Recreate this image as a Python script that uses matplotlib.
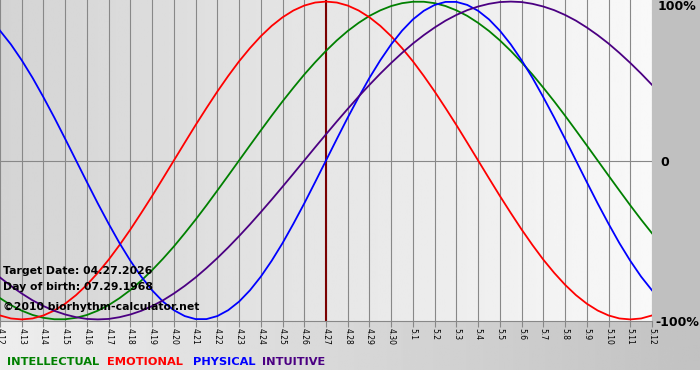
import numpy as np
import matplotlib
matplotlib.use('Agg')
from matplotlib import pyplot as plt
from matplotlib.patches import Rectangle

# day offsets from the target date (4.27), 4.12 .. 5.12
days = list(range(-15, 16))
day_labels = ['4.12', '4.13', '4.14', '4.15', '4.16', '4.17', '4.18', '4.19', '4.20',
              '4.21', '4.22', '4.23', '4.24', '4.25', '4.26', '4.27', '4.28', '4.29',
              '4.30', '5.1', '5.2', '5.3', '5.4', '5.5', '5.6', '5.7', '5.8', '5.9',
              '5.10', '5.11', '5.12']
# curve samples every half day
half_days = np.arange(61) / 2 - 15

# cycle values, -1 .. 1, read every half day
physical = [0.817, 0.731, 0.631, 0.520, 0.398, 0.270, 0.136, 0.0, -0.136, -0.270,
            -0.398, -0.520, -0.631, -0.731, -0.817, -0.888, -0.942, -0.979, -0.998,
            -0.998, -0.979, -0.942, -0.888, -0.817, -0.731, -0.631, -0.520, -0.398,
            -0.270, -0.136, 0.0, 0.136, 0.270, 0.398, 0.520, 0.631, 0.731, 0.817,
            0.888, 0.942, 0.979, 0.998, 0.998, 0.979, 0.942, 0.888, 0.817, 0.731,
            0.631, 0.520, 0.398, 0.270, 0.136, 0.0, -0.136, -0.270, -0.398, -0.520,
            -0.631, -0.731, -0.817]
emotional = [-0.975, -0.994, -1.000, -0.994, -0.975, -0.944, -0.901, -0.847, -0.782,
             -0.707, -0.624, -0.532, -0.434, -0.330, -0.223, -0.112, 0.0, 0.112,
             0.223, 0.330, 0.434, 0.532, 0.624, 0.707, 0.782, 0.847, 0.901, 0.944,
             0.975, 0.994, 1.000, 0.994, 0.975, 0.944, 0.901, 0.847, 0.782, 0.707,
             0.624, 0.532, 0.434, 0.330, 0.223, 0.112, 0.0, -0.112, -0.223, -0.330,
             -0.434, -0.532, -0.624, -0.707, -0.782, -0.847, -0.901, -0.944, -0.975,
             -0.994, -1.000, -0.994, -0.975]
intellectual = [-0.866, -0.910, -0.945, -0.972, -0.990, -0.999, -0.999, -0.990, -0.972,
                -0.945, -0.910, -0.866, -0.815, -0.756, -0.690, -0.618, -0.541, -0.458,
                -0.372, -0.282, -0.189, -0.095, 0.0, 0.095, 0.189, 0.282, 0.372, 0.458,
                0.541, 0.618, 0.690, 0.756, 0.815, 0.866, 0.910, 0.945, 0.972, 0.990,
                0.999, 0.999, 0.990, 0.972, 0.945, 0.910, 0.866, 0.815, 0.756, 0.690,
                0.618, 0.541, 0.458, 0.372, 0.282, 0.189, 0.095, 0.0, -0.095, -0.189,
                -0.282, -0.372, -0.458]
intuitive = [-0.736, -0.789, -0.837, -0.880, -0.916, -0.946, -0.969, -0.986, -0.997,
             -1.000, -0.997, -0.986, -0.969, -0.946, -0.916, -0.880, -0.837, -0.789,
             -0.736, -0.677, -0.614, -0.547, -0.476, -0.402, -0.325, -0.246, -0.165,
             -0.083, 0.0, 0.083, 0.165, 0.246, 0.325, 0.402, 0.476, 0.547, 0.614,
             0.677, 0.736, 0.789, 0.837, 0.880, 0.916, 0.946, 0.969, 0.986, 0.997,
             1.000, 0.997, 0.986, 0.969, 0.946, 0.916, 0.880, 0.837, 0.789, 0.736,
             0.677, 0.614, 0.547, 0.476]

series = [('INTELLECTUAL', intellectual, '#008000'),
          ('EMOTIONAL', emotional, '#ff0000'),
          ('PHYSICAL', physical, '#0000ff'),
          ('INTUITIVE', intuitive, '#4b0082')]

W, H = 700, 380
fig = plt.figure(figsize=(W / 100, H / 100), dpi=100, facecolor='white')

# background: gray margin on the right, gradient band at the bottom
bg = fig.add_axes([0, 0, 1, 1], zorder=0)
bg.set_xlim(0, W)
bg.set_ylim(H, 0)
bg.axis('off')
grad = np.linspace(0.93, 0.76, 256).reshape(1, -1)
bg.imshow(grad, cmap='gray', vmin=0, vmax=1, aspect='auto',
          extent=(0, W, 370, 321))
bg.add_patch(Rectangle((652, 0), W - 652, 321, color='#c0c0c0', lw=0))

# main plot area
ax = fig.add_axes([0, 1 - 321 / H, 652 / W, 321 / H], zorder=1)
ax.set_xlim(-15, 15)
ax.set_ylim(-1.01, 1.01)
pgrad = np.linspace(0.83, 0.975, 256).reshape(1, -1)
ax.imshow(pgrad, cmap='gray', vmin=0, vmax=1, aspect='auto',
          extent=(-15, 15, -1.01, 1.01), zorder=0)

for d in days:
    ax.axvline(d, color='#888888', lw=0.8, zorder=1)
ax.axhline(0, color='#888888', lw=0.8, zorder=1)
ax.axvline(0, color='#7a0000', lw=1.5, zorder=2)

for name, vals, col in series:
    ax.plot(half_days, vals, color=col, lw=1.3, zorder=3)

for s in ['top', 'left', 'right']:
    ax.spines[s].set_visible(False)
ax.spines['bottom'].set_color('#888888')
ax.set_yticks([])
ax.set_xticks(days)
ax.set_xticklabels(day_labels, rotation=-90, fontsize=5.5)
ax.tick_params(axis='x', length=4, width=0.8, color='#888888', pad=1)

# right-hand percentage labels
fig.text(658 / W, 1 - 7 / H, '100%', fontsize=9, fontweight='bold',
         va='center', ha='left')
fig.text(660 / W, 1 - 162 / H, '0', fontsize=9, fontweight='bold',
         va='center', ha='left')
fig.text(655 / W, 1 - 322 / H, '-100%', fontsize=9, fontweight='bold',
         va='center', ha='left')

# info text
info = [('Target Date: 04.27.2026', 271), ('Day of birth: 07.29.1968', 287),
        ('\u00a92010 biorhythm-calculator.net', 307)]
for txt, yp in info:
    fig.text(3 / W, 1 - yp / H, txt, fontsize=7.8, fontweight='bold',
             va='center', ha='left', zorder=5)

# legend row
for (name, vals, col), xp in zip(series, [7, 107, 193, 262]):
    fig.text(xp / W, 1 - 362 / H, name, color=col, fontsize=8.2, fontweight='bold',
             va='center', ha='left')

fig.savefig('out.png', dpi=100, facecolor='white')
